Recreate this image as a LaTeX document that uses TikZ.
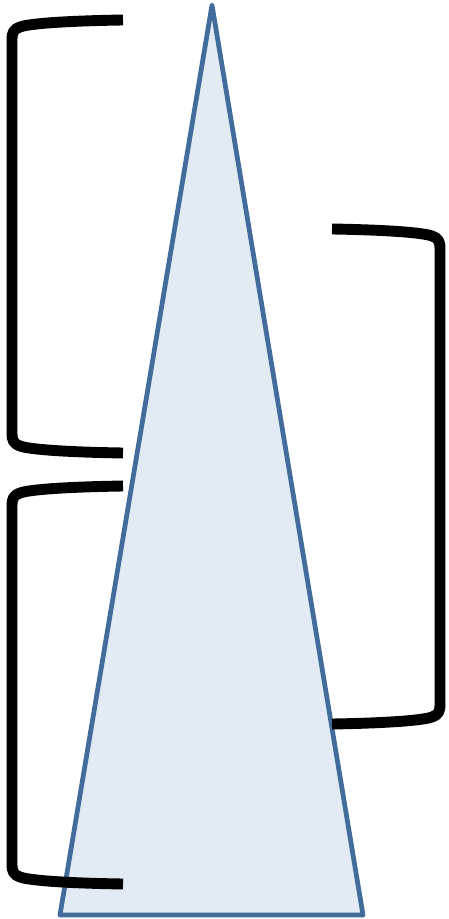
\documentclass[tikz,border=0pt]{standalone}
\usepackage{xcolor}
\usetikzlibrary{positioning}
\definecolor{coneline}{RGB}{66,108,156}
\definecolor{conefill}{RGB}{226,234,244}

\begin{document}
\begin{tikzpicture}[
  x=0.01cm, y=-0.01cm,
  cone/.style={draw=coneline, fill=conefill, line width=1.35pt, line join=round},
  bracket/.style={draw=black, line width=3.1pt, line join=round}
]
  \useasboundingbox (0,0) rectangle (448,919);
  % the triangle
  \path[cone] (212,5) coordinate (apex) -- (363,915) coordinate (baseR) -- (60,915) coordinate (baseL) -- cycle;
  % left brackets
  \foreach \t/\b in {20/453, 486/884} {
    \draw[bracket] (123,\t) .. controls (60,{\t+1}) and (28,{\t+4}) .. (20,{\t+7})
      .. controls (14,{\t+9}) and (12,{\t+12}) .. (12,{\t+20})
      -- (12,{\b-20})
      .. controls (12,{\b-12}) and (14,{\b-9}) .. (20,{\b-7})
      .. controls (28,{\b-4}) and (60,{\b-1}) .. (123,\b);
  }
  % right bracket
  \draw[bracket] (332,229) .. controls (392,230) and (424,233) .. (432,236)
    .. controls (438,238) and (440,241) .. (440,249)
    -- (440,704)
    .. controls (440,712) and (438,715) .. (432,717)
    .. controls (424,720) and (392,723) .. (332,724);
\end{tikzpicture}
\end{document}
